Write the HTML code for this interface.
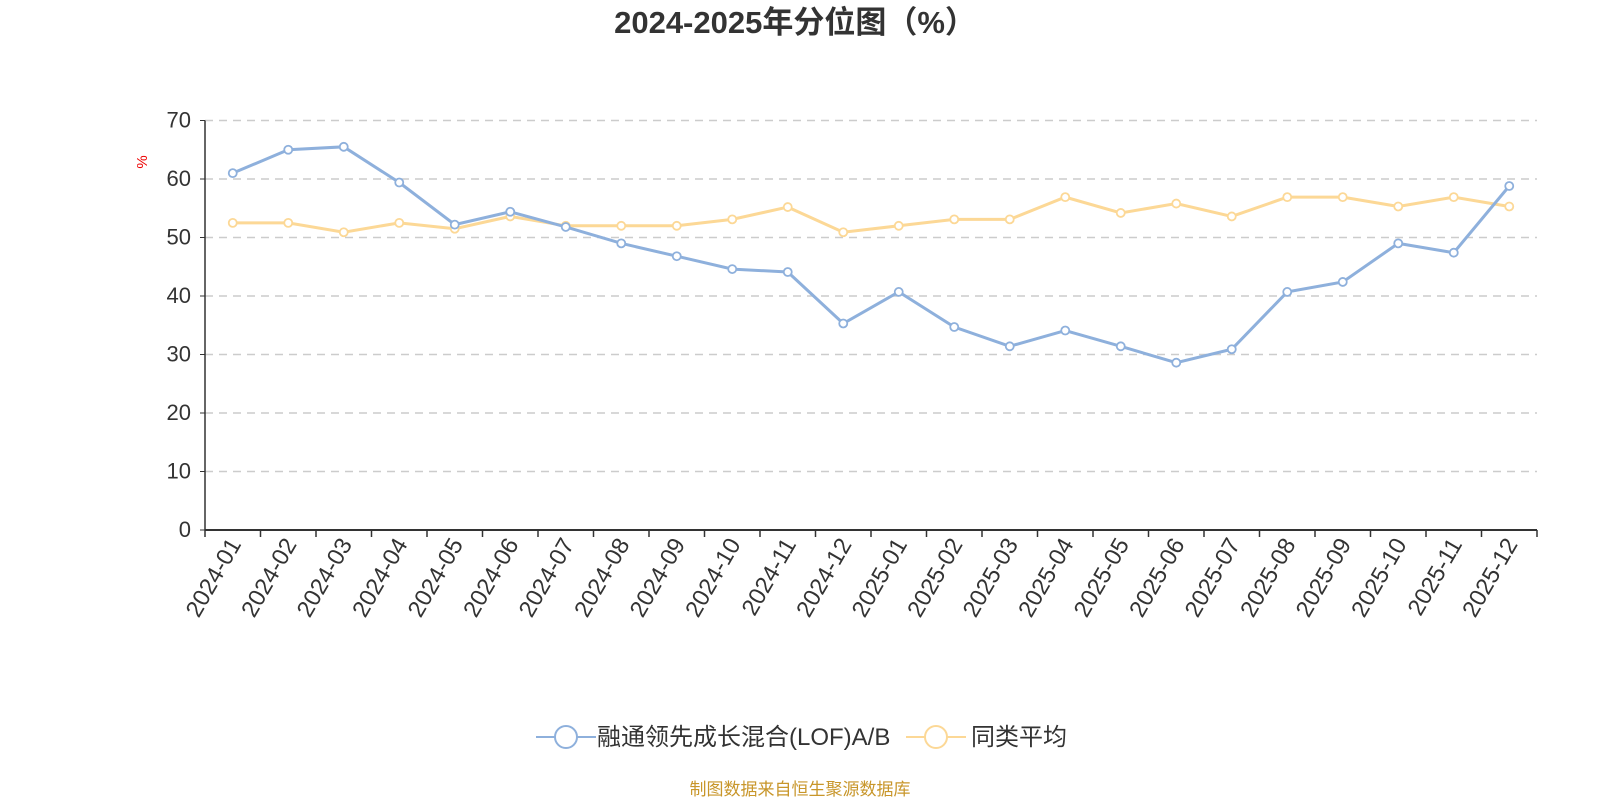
<!DOCTYPE html>
<html><head><meta charset="utf-8"><style>
html,body{margin:0;padding:0;background:#fff;width:1600px;height:800px;overflow:hidden}
text{font-family:"Liberation Sans","Noto Sans CJK SC",sans-serif}
</style></head><body>
<svg id="s" width="1600" height="800" xmlns="http://www.w3.org/2000/svg">
<text x="795" y="33" text-anchor="middle" font-size="31" font-weight="bold" fill="#333">2024-2025年分位图（%）</text>
<text x="0" y="0" transform="translate(147,162) rotate(-90)" text-anchor="middle" font-size="15" fill="#e00">%</text>
<g id="g"></g>
<g>
<line x1="536" y1="737" x2="596" y2="737" stroke="#8eb0dc" stroke-width="2"/>
<circle cx="566" cy="737" r="11" fill="#fff" stroke="#8eb0dc" stroke-width="2"/>
<text x="597" y="745" font-size="24" fill="#333">融通领先成长混合(LOF)A/B</text>
<line x1="906" y1="737" x2="966" y2="737" stroke="#fcd896" stroke-width="2"/>
<circle cx="936" cy="737" r="11" fill="#fff" stroke="#fcd896" stroke-width="2"/>
<text x="971" y="745" font-size="24" fill="#333">同类平均</text>
</g>
<text x="800" y="795" text-anchor="middle" font-size="17" fill="#c8962a">制图数据来自恒生聚源数据库</text>
</svg>
<script>
var g=document.getElementById('g'),h='';
var L=205,R=1537,T=120.5,B=530,bw=(R-L)/24;
function y(v){return B-(B-T)*v/70}
for(var v=0;v<=70;v+=10){var yy=y(v);
if(v>0)h+='<line x1="'+L+'" y1="'+yy+'" x2="'+R+'" y2="'+yy+'" stroke="#ccc" stroke-width="1.5" stroke-dasharray="8,6"/>';
h+='<text x="'+(L-14)+'" y="'+(yy+7)+'" text-anchor="end" font-size="22" fill="#333">'+v+'</text>';
h+='<line x1="'+(L-5)+'" y1="'+yy+'" x2="'+L+'" y2="'+yy+'" stroke="#333"/>';}
h+='<line x1="'+L+'" y1="'+T+'" x2="'+L+'" y2="'+B+'" stroke="#333" stroke-width="1.5"/>';
h+='<line x1="'+L+'" y1="'+B+'" x2="'+R+'" y2="'+B+'" stroke="#333" stroke-width="2"/>';
var labs=[];for(var yr of [2024,2025])for(var m=1;m<=12;m++)labs.push(yr+'-'+(m<10?'0':'')+m);
for(var i=0;i<=24;i++){var x=L+bw*i;h+='<line x1="'+x+'" y1="'+B+'" x2="'+x+'" y2="'+(B+7)+'" stroke="#333" stroke-width="1.5"/>';}
labs.forEach(function(l,i){var x=L+bw*(i+0.5)+9;h+='<text transform="translate('+x+','+(B+14)+') rotate(-60)" text-anchor="end" font-size="23.5" fill="#333">'+l+'</text>';});
var b=[61,65,65.5,59.4,52.2,54.4,51.8,49,46.8,44.6,44.1,35.3,40.7,34.7,31.4,34.1,31.4,28.6,30.9,40.7,42.4,49,47.4,58.8];
var c=[52.5,52.5,50.9,52.5,51.5,53.6,52,52,52,53.1,55.2,50.9,52,53.1,53.1,56.9,54.2,55.8,53.6,56.9,56.9,55.3,56.9,55.3];
function ser(d,col){var p=d.map(function(v,i){return (L+bw*(i+0.5))+','+y(v)}).join(' ');
var s='<polyline points="'+p+'" fill="none" stroke="'+col+'" stroke-width="3"/>';
d.forEach(function(v,i){s+='<circle cx="'+(L+bw*(i+0.5))+'" cy="'+y(v)+'" r="4" fill="#fff" stroke="'+col+'" stroke-width="1.8"/>'});return s;}
h+=ser(c,'#fcd896')+ser(b,'#8eb0dc');
g.innerHTML=h;
</script>
</body></html>
